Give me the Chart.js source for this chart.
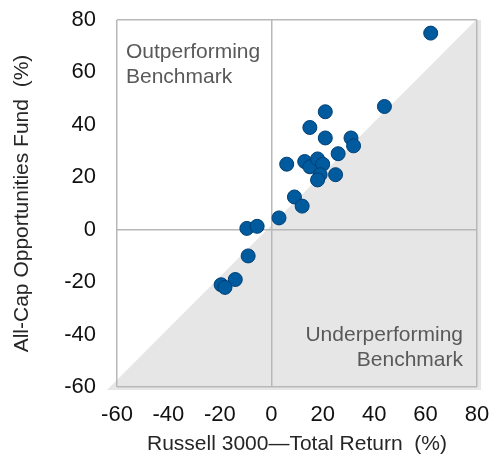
<!DOCTYPE html>
<html>
<head>
<meta charset="utf-8">
<script src="https://cdn.jsdelivr.net/npm/chart.js@4/dist/chart.umd.min.js"></script>
<style>
  html, body { margin: 0; padding: 0; background: #ffffff; }
  #wrap { width: 493px; height: 457px; position: relative; }
</style>
</head>
<body>
<div id="wrap"><canvas id="c" width="493" height="457"></canvas></div>
<script>
// Russell 3000 total return (%) per period
const benchmarkReturns = [62, 44, 21, 15, 21, 31, 32, 26, 6, 13, 15, 18, 20, 19, 18, 25, 9, 12, 3, -9.5, -5.5, -9, -14, -19.5, -18];
// All-Cap Opportunities Fund return (%) per period
const fundReturns      = [75, 47, 45, 39, 35, 35, 32, 29, 25, 26, 24, 27, 25, 21, 19, 21, 12.5, 9, 4.5, 0.5, 1.3, -10, -19, -21, -22];
const axisTicks = [-60, -40, -20, 0, 20, 40, 60, 80];
const xTitle = 'Russell 3000\u2014Total Return  (%)';
const yTitle = 'All-Cap Opportunities Fund  (%)';
const outLabel = ['Outperforming', 'Benchmark'];
const underLabel = ['Underperforming', 'Benchmark'];

const points = benchmarkReturns.map((x, i) => ({ x: x, y: fundReturns[i] }));
const FONT = "'Liberation Sans', Arial, sans-serif";
const gridColor = ctx => {
  const v = ctx.tick && ctx.tick.value;
  return (v === 0 || v === axisTicks[0] || v === axisTicks[axisTicks.length - 1]) ? '#b8b8b8' : 'rgba(0,0,0,0)';
};
const noOverflow = s => { s.paddingTop = 0; s.paddingBottom = 0; s.paddingLeft = 0; s.paddingRight = 0; };

const backgroundPlugin = {
  id: 'quadrants',
  beforeDraw(chart) {
    const { ctx, chartArea: a, scales } = chart;
    ctx.save();
    ctx.fillStyle = '#ffffff';
    ctx.fillRect(0, 0, chart.width, chart.height);
    // gray "underperforming" triangle below the y = x diagonal
    const x0 = scales.x.getPixelForValue(axisTicks[0]);
    const y0 = scales.y.getPixelForValue(axisTicks[0]);
    const x1 = scales.x.getPixelForValue(axisTicks[axisTicks.length - 1]);
    const y1 = scales.y.getPixelForValue(axisTicks[axisTicks.length - 1]);
    ctx.fillStyle = '#e6e6e6';
    ctx.beginPath();
    ctx.moveTo(x0 - 10, y0 + 3);
    ctx.lineTo(x1 + 4, y0 + 3);
    ctx.lineTo(x1 + 4, y1);
    ctx.lineTo(x1 - 1, y1);
    ctx.closePath();
    ctx.fill();
    ctx.restore();
  },
  afterDraw(chart) {
    const { ctx, chartArea: a } = chart;
    ctx.save();
    ctx.fillStyle = '#595959';
    ctx.font = '21px ' + FONT;
    ctx.textBaseline = 'middle';
    ctx.textAlign = 'left';
    ctx.fillText(outLabel[0], a.left + 9, a.top + 32);
    ctx.fillText(outLabel[1], a.left + 9, a.top + 57);
    ctx.textAlign = 'right';
    ctx.fillText(underLabel[0], a.right - 14, a.bottom - 52);
    ctx.fillText(underLabel[1], a.right - 14, a.bottom - 27);
    ctx.restore();
  }
};

new Chart(document.getElementById('c'), {
  type: 'scatter',
  data: {
    datasets: [{
      data: points,
      backgroundColor: '#005a9e',
      borderColor: '#003f75',
      borderWidth: 1,
      pointRadius: 7,
      pointHoverRadius: 7,
      clip: false
    }]
  },
  options: {
    responsive: false,
    animation: false,
    events: [],
    layout: { padding: { left: 0, right: 16, top: 20, bottom: 0 } },
    plugins: { legend: { display: false }, tooltip: { enabled: false } },
    scales: {
      x: {
        type: 'linear',
        min: axisTicks[0], max: axisTicks[axisTicks.length - 1],
        afterBuildTicks: s => { s.ticks = axisTicks.map(v => ({ value: v })); },
        afterFit: s => { s.height = 70; noOverflow(s); },
        grid: { color: gridColor, lineWidth: 1.5, drawTicks: false },
        border: { display: false },
        ticks: { color: '#111111', font: { family: FONT, size: 22 }, padding: 15, maxRotation: 0, autoSkip: false },
        title: { display: true, text: xTitle, color: '#262626', font: { family: FONT, size: 21 }, padding: { top: 0, bottom: 0 } }
      },
      y: {
        type: 'linear',
        min: axisTicks[0], max: axisTicks[axisTicks.length - 1],
        afterBuildTicks: s => { s.ticks = axisTicks.map(v => ({ value: v })); },
        afterFit: s => { s.width = 117; noOverflow(s); },
        grid: { color: gridColor, lineWidth: 1.5, drawTicks: false },
        border: { display: false },
        ticks: { color: '#111111', font: { family: FONT, size: 22 }, padding: 21, autoSkip: false },
        title: { display: true, text: yTitle, color: '#262626', font: { family: FONT, size: 21 }, padding: { top: 10, bottom: 0 } }
      }
    }
  },
  plugins: [backgroundPlugin]
});
</script>
</body>
</html>
